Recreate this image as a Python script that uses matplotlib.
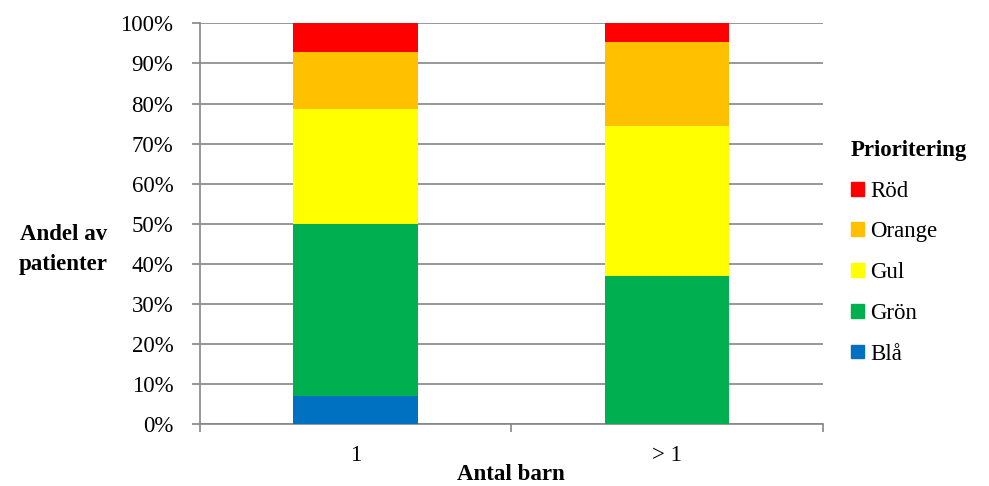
import numpy as np
import matplotlib.pyplot as plt
from matplotlib import rc
from matplotlib.patches import Patch

rc('font', **{'family': 'serif', 'serif': ['Liberation Serif', 'DejaVu Serif']})

# Andel av patienter per prioritering (procent)
groups = ["1", "> 1"]
bla = [7.1, 0.0]
gron = [42.9, 37.0]
gul = [28.6, 37.4]
orange = [14.2, 20.9]
rod = [7.2, 4.7]

series = [("Blå", bla, "#0070C0"),
          ("Grön", gron, "#00B050"),
          ("Gul", gul, "#FFFF00"),
          ("Orange", orange, "#FFC000"),
          ("Röd", rod, "#FF0000")]

FS = 16.5
GREY = "#868686"

fig = plt.figure(figsize=(9.89, 4.86), dpi=100)
ax = fig.add_axes([0.202, 0.127, 0.630, 0.825])

x = np.arange(len(groups))
bottom = np.zeros(len(groups))
for name, vals, color in series:
    ax.bar(x, vals, width=0.4, bottom=bottom, color=color, label=name, zorder=3)
    bottom += np.array(vals)

ax.set_xlim(-0.5, 1.5)
ax.set_ylim(0, 100)
ax.set_yticks(np.arange(0, 101, 10))
ax.set_yticklabels([f"{v}%" for v in range(0, 101, 10)], fontsize=FS)
ax.yaxis.grid(True, color=GREY, linewidth=1.2, zorder=0)

# category ticks sit between the bars
ax.set_xticks([-0.5, 0.5, 1.5])
ax.set_xticklabels([])
ax.set_xticks(x, minor=True)
ax.set_xticklabels(groups, minor=True, fontsize=FS)
ax.tick_params(axis="x", which="minor", length=0, pad=15)
ax.tick_params(axis="x", which="major", length=6, color=GREY, width=1.2)
ax.tick_params(axis="y", length=6, color=GREY, width=1.2, pad=13)

for side in ["top", "right"]:
    ax.spines[side].set_visible(False)
for side in ["left", "bottom"]:
    ax.spines[side].set_color(GREY)
    ax.spines[side].set_linewidth(1.2)

fig.text(511 / 989, 1 - 474 / 486, "Antal barn", fontsize=FS,
         fontweight="bold", ha="center", va="center")
ax.set_ylabel("Andel av\npatienter", fontsize=FS, fontweight="bold",
              rotation=0, ha="center", va="center", linespacing=1.55)
ax.yaxis.set_label_coords(-0.219, 0.435)

handles = [Patch(color=c, label=n) for n, _, c in reversed(series)]
leg = fig.legend(handles=handles, title="Prioritering", loc="upper left",
                 bbox_to_anchor=(851 / 989, 1 - 140 / 486), frameon=False,
                 fontsize=FS, borderpad=0, borderaxespad=0,
                 handlelength=0.55, handleheight=0.55, handletextpad=0.3,
                 labelspacing=0.86, alignment="left")
leg.get_title().set_fontweight("bold")
leg.get_title().set_fontsize(FS)

fig.savefig("out.png", dpi=100)
